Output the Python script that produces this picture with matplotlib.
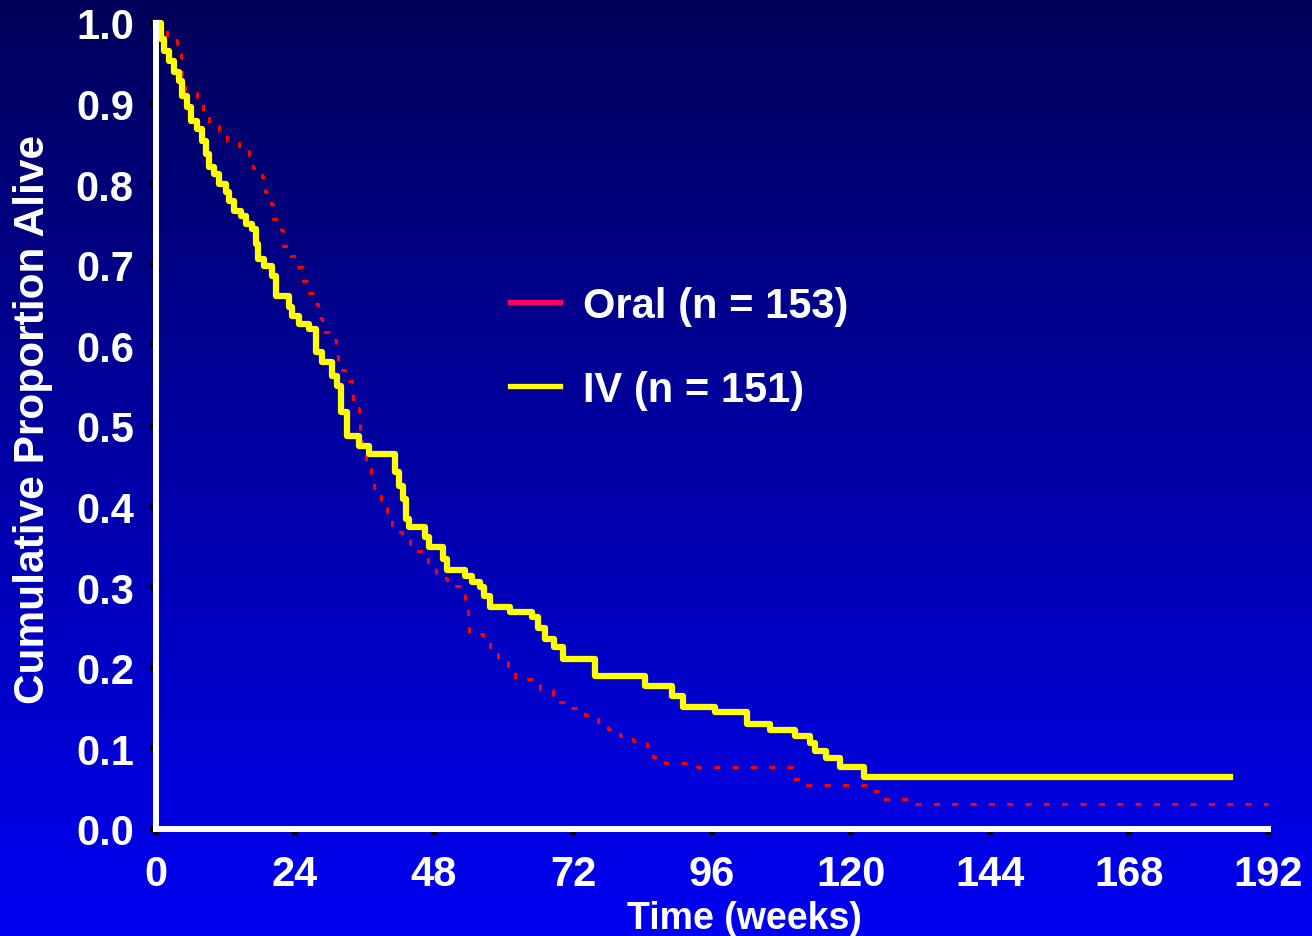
import numpy as np
import matplotlib
matplotlib.use('Agg')
import matplotlib.pyplot as plt
from matplotlib.lines import Line2D
from matplotlib.colors import LinearSegmentedColormap

# ── Kaplan-Meier steps (time in weeks, proportion alive) ──
oral_weeks = [0.0, 1.9, 3.6, 4.3, 4.5, 5.0, 7.1, 8.1, 9.2, 10.9, 12.3, 14.4, 16.1,
              16.8, 18.3, 18.9, 19.9, 20.2, 21.6, 22.0, 23.2, 24.4, 25.3, 26.1,
              27.5, 28.0, 28.7, 30.4, 31.0, 31.5, 32.7, 33.9, 34.1, 35.0, 35.2,
              35.5, 36.2, 37.2, 37.7, 38.9, 39.8, 40.8, 42.4, 43.8, 45.8, 46.9,
              48.3, 50.3, 53.3, 53.8, 54.1, 56.4, 57.6, 59.0, 60.7, 61.9, 66.3,
              68.5, 69.7, 71.4, 74.0, 76.3, 78.0, 80.1, 82.4, 84.7, 85.8, 87.9,
              93.4, 109.8, 111.9, 123.7, 125.1, 129.9, 192.0]
oral_alive = [1.0, 0.981, 0.970, 0.953, 0.934, 0.916, 0.906, 0.891, 0.876, 0.866,
              0.854, 0.847, 0.835, 0.820, 0.809, 0.790, 0.775, 0.757, 0.743,
              0.723, 0.711, 0.697, 0.680, 0.665, 0.651, 0.634, 0.617, 0.607,
              0.587, 0.569, 0.556, 0.542, 0.522, 0.505, 0.481, 0.463, 0.447,
              0.430, 0.413, 0.398, 0.383, 0.368, 0.359, 0.345, 0.339, 0.324,
              0.311, 0.301, 0.282, 0.262, 0.242, 0.236, 0.221, 0.210, 0.200,
              0.186, 0.172, 0.166, 0.158, 0.150, 0.142, 0.133, 0.124, 0.115,
              0.109, 0.103, 0.089, 0.082, 0.077, 0.062, 0.055, 0.047, 0.037,
              0.031, 0.031]

iv_weeks = [0.0, 0.9, 1.4, 2.2, 3.1, 4.0, 4.5, 5.4, 6.1, 7.1, 8.0, 8.6, 9.2, 10.0,
            10.9, 12.1, 12.6, 13.5, 14.7, 15.6, 16.6, 17.3, 17.6, 18.7, 20.1,
            20.8, 23.0, 23.5, 24.7, 26.5, 27.7, 28.7, 30.4, 31.3, 32.0, 32.9,
            35.1, 36.8, 41.2, 42.0, 42.6, 43.2, 43.6, 46.4, 47.2, 49.6, 50.3,
            53.3, 54.5, 55.9, 56.7, 57.6, 61.1, 64.9, 65.9, 67.1, 68.8, 70.2,
            75.8, 84.4, 89.1, 91.0, 96.5, 102.1, 106.0, 110.4, 113.0, 113.8,
            115.6, 118.1, 122.3, 185.4]
iv_alive = [1.0, 0.980, 0.965, 0.953, 0.939, 0.928, 0.909, 0.896, 0.878, 0.868,
            0.854, 0.837, 0.821, 0.813, 0.800, 0.790, 0.779, 0.767, 0.761,
            0.751, 0.745, 0.726, 0.707, 0.698, 0.686, 0.661, 0.648, 0.636,
            0.627, 0.620, 0.592, 0.579, 0.562, 0.550, 0.517, 0.488, 0.475,
            0.465, 0.443, 0.425, 0.409, 0.385, 0.375, 0.362, 0.350, 0.335,
            0.321, 0.314, 0.306, 0.300, 0.289, 0.275, 0.269, 0.263, 0.250,
            0.236, 0.226, 0.211, 0.190, 0.177, 0.165, 0.151, 0.145, 0.130,
            0.123, 0.115, 0.107, 0.097, 0.088, 0.077, 0.0645, 0.0645]

x_ticks = [0, 24, 48, 72, 96, 120, 144, 168, 192]
y_ticks = [0.0, 0.1, 0.2, 0.3, 0.4, 0.5, 0.6, 0.7, 0.8, 0.9, 1.0]
legend_labels = ['Oral (n = 153)', 'IV (n = 151)']

FONT = 'Liberation Sans'

fig = plt.figure(figsize=(13.12, 9.37), dpi=100)

# gradient background, navy at top to bright blue at the bottom
bg = fig.add_axes([0, 0, 1, 1], zorder=0)
bg.axis('off')
grad = np.linspace(0, 1, 256).reshape(-1, 1)
bg_cmap = LinearSegmentedColormap.from_list('bg', ['#00005A', '#0000F2'])
bg.imshow(grad, aspect='auto', cmap=bg_cmap, extent=[0, 1, 0, 1], origin='upper')

ax = fig.add_axes([156 / 1312, 1 - 830 / 937, (1268 - 156) / 1312, (830 - 24) / 937], zorder=1)
ax.set_facecolor('none')

ax.step(oral_weeks, oral_alive, where='post', color='#FF0000', lw=2.2,
        ls=(0, (2, 4)), clip_on=False)
ax.step(iv_weeks, iv_alive, where='post', color='#FFFF00', lw=4.5, clip_on=False)

ax.set_xlim(0, 192)
ax.set_ylim(0, 1.0)
ax.set_xticks(x_ticks)
ax.set_yticks(y_ticks)
ax.set_xticklabels([str(v) for v in x_ticks])
ax.set_yticklabels([f'{v:.1f}' for v in y_ticks])

for s in ['top', 'right']:
    ax.spines[s].set_visible(False)
for s in ['left', 'bottom']:
    ax.spines[s].set_color('white')
    ax.spines[s].set_linewidth(4.3)

ax.tick_params(axis='both', direction='out', length=4, width=4, color='black',
               labelcolor='white')
ax.tick_params(axis='x', pad=14)
ax.tick_params(axis='y', pad=12)
for lab in ax.get_xticklabels() + ax.get_yticklabels():
    lab.set_fontfamily(FONT)
    lab.set_fontweight('bold')
    lab.set_fontsize(30)

ax.set_xlabel('Time (weeks)', fontsize=27, fontweight='bold', color='white', family=FONT)
ax.set_ylabel('Cumulative Proportion Alive', fontsize=30.5, fontweight='bold',
              color='white', family=FONT)
ax.xaxis.set_label_coords(0.529, -0.088)
ax.yaxis.set_label_coords(-0.093, 0.51)

handles = [Line2D([], [], color='#FF0066', lw=3.8),
           Line2D([], [], color='#FFFF00', lw=3.8)]
ax.legend(handles, legend_labels, loc='upper left', bbox_to_anchor=(0.318, 0.674),
          frameon=False, prop=dict(family=FONT, weight='bold', size=30),
          labelcolor='white', handlelength=1.2, handletextpad=0.55,
          labelspacing=1.05, borderpad=0, borderaxespad=0)

fig.savefig('out.png', dpi=100)
